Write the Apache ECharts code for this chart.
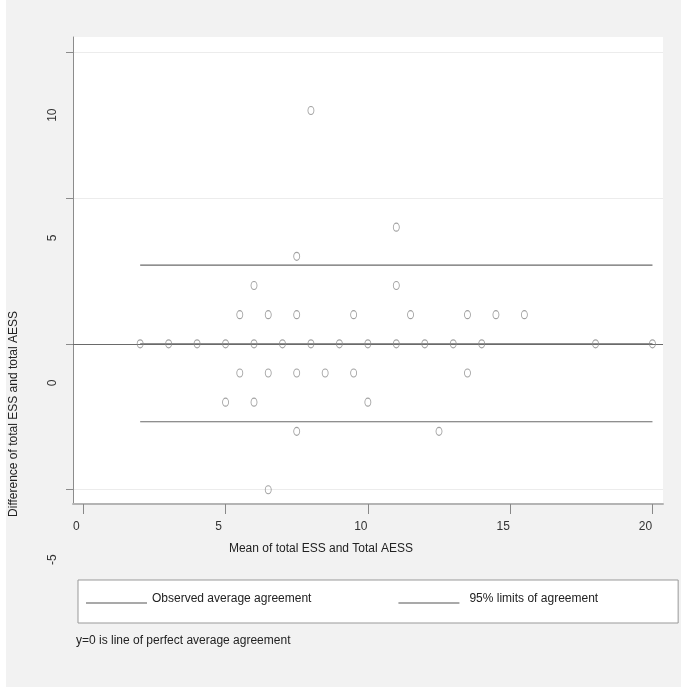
<!DOCTYPE html>
<html>
<head>
<meta charset="utf-8">
<title>Bland-Altman plot</title>
<script src="https://cdn.jsdelivr.net/npm/echarts@6.0.0/dist/echarts.min.js"></script>
<style>
  html, body { margin: 0; padding: 0; background: #fff; }
  #chart { width: 681px; height: 687px; }
</style>
</head>
<body>
<div id="chart"></div>
<script>
// mean of the two totals (x) and their difference (y), one pair per subject
const meanScores = [
  2, 3, 4, 5, 6, 7, 8, 9, 10, 11, 12, 13, 14, 18, 20,
  5.5, 6.5, 7.5, 9.5, 11.5, 13.5, 14.5, 15.5,
  6, 11,
  7.5,
  11,
  8,
  5.5, 6.5, 7.5, 8.5, 9.5, 13.5,
  5, 6, 10,
  7.5, 12.5,
  6.5
]
const diffScores = [
  0, 0, 0, 0, 0, 0, 0, 0, 0, 0, 0, 0, 0, 0, 0,
  1, 1, 1, 1, 1, 1, 1, 1,
  2, 2,
  3,
  4,
  8,
  -1, -1, -1, -1, -1, -1,
  -2, -2, -2,
  -3, -3,
  -5
]

// agreement lines
const meanDiff = 0
const upperLimit = 2.7
const lowerLimit = -2.67
const lineRange = [2, 20]

const xTicks = [0, 5, 10, 15, 20]
const yTicks = [-5, 0, 5, 10]

const FONT = '"Liberation Sans", Arial, sans-serif'
const LINE = '#6a6a6a'

// the y labels sit a little below their ticks in the original
const yLabelDrop = [70, 39, 40, 63]
const yRich = {}
yTicks.forEach(function(v, i) {
  yRich['s' + i] = {
    fontFamily: FONT, fontSize: 12, color: '#333',
    padding: [0, yLabelDrop[i] * 2, 0, 0]
  }
})

const points = meanScores.map(function(m, i) {
  return [m, diffScores[i]]
})

// legend key: a rule drawn along the text baseline
const keyIcon = 'path://M0,0h61v0.01h-61z M0,8h61v1h-61z'

const myChart = echarts.init(document.getElementById('chart'))

myChart.setOption({
  animation: false,
  backgroundColor: '#f2f2f2',
  textStyle: { fontFamily: FONT },
  grid: {
    left: 73,
    top: 37,
    right: 18,
    bottom: 183,
    show: true,
    backgroundColor: '#fff',
    borderWidth: 0
  },
  legend: {
    left: 78,
    top: 580,
    width: 560,
    orient: 'horizontal',
    padding: [13, 80, 18, 8],
    itemGap: 87,
    itemWidth: 61,
    itemHeight: 9,
    icon: keyIcon,
    itemStyle: { color: '#555', borderWidth: 0 },
    backgroundColor: '#fff',
    borderColor: '#999',
    borderWidth: 1,
    borderRadius: 0,
    selectedMode: false,
    textStyle: { fontFamily: FONT, fontSize: 12, color: '#222' },
    data: [
      { name: 'Observed average agreement' },
      { name: '95% limits of agreement', textStyle: { padding: [0, 0, 0, 5] } }
    ]
  },
  xAxis: {
    type: 'value',
    min: -0.36,
    max: 20.37,
    name: 'Mean of total ESS and Total AESS',
    nameLocation: 'middle',
    nameGap: 39,
    nameTextStyle: { fontFamily: FONT, fontSize: 12, color: '#222', padding: [0, 94, 0, 0] },
    axisLine: { show: true, onZero: false, lineStyle: { color: '#b4b4b4', width: 2 } },
    axisTick: { show: true, length: 10, customValues: xTicks, lineStyle: { color: '#888' } },
    axisLabel: {
      customValues: xTicks,
      margin: 17,
      fontSize: 12,
      color: '#333',
      padding: [0, 14, 0, 0]
    },
    splitLine: { show: false }
  },
  yAxis: {
    type: 'value',
    min: -5.49,
    max: 10.52,
    name: 'Difference of total ESS and total AESS',
    nameLocation: 'middle',
    nameRotate: 90,
    nameGap: 53,
    nameTextStyle: { fontFamily: FONT, fontSize: 12, color: '#222', padding: [0, 287, 0, 0] },
    axisLine: { show: true, onZero: false, lineStyle: { color: '#8c8c8c', width: 1 } },
    axisTick: { show: true, length: 7, customValues: yTicks, lineStyle: { color: '#8c8c8c' } },
    axisLabel: {
      customValues: yTicks,
      rotate: 90,
      margin: 14,
      formatter: function(v) {
        const i = yTicks.indexOf(v)
        return i < 0 ? '' : '{s' + i + '|' + v + '}'
      },
      rich: yRich
    },
    splitLine: { show: true, customValues: yTicks, lineStyle: { color: '#ececec', width: 1 } }
  },
  series: [
    {
      name: 'Difference',
      type: 'scatter',
      data: points,
      symbol: 'circle',
      symbolSize: [6, 8],
      itemStyle: { color: 'rgba(255,255,255,0)', borderColor: '#8a8a8a', borderWidth: 1 },
      z: 5,
      markLine: {
        silent: true,
        symbol: 'none',
        label: { show: false },
        lineStyle: { color: LINE, width: 1.2, type: 'solid' },
        data: [{ yAxis: 0 }]
      }
    },
    {
      name: 'Observed average agreement',
      type: 'line',
      data: [[lineRange[0], meanDiff], [lineRange[1], meanDiff]],
      symbol: 'none',
      color: LINE,
      lineStyle: { color: LINE, width: 1.2 }
    },
    {
      name: '95% limits of agreement',
      type: 'line',
      data: [[lineRange[0], upperLimit], [lineRange[1], upperLimit]],
      symbol: 'none',
      color: LINE,
      lineStyle: { color: LINE, width: 1.2 }
    },
    {
      name: '95% limits of agreement',
      type: 'line',
      data: [[lineRange[0], lowerLimit], [lineRange[1], lowerLimit]],
      symbol: 'none',
      color: LINE,
      lineStyle: { color: LINE, width: 1.2 }
    }
  ],
  graphic: [
    {
      type: 'rect',
      left: 0,
      top: 0,
      shape: { width: 6, height: 687 },
      style: { fill: '#fff' },
      silent: true
    },
    {
      type: 'text',
      left: 76,
      top: 635,
      style: {
        text: 'y=0 is line of perfect average agreement',
        font: '12px ' + FONT,
        fill: '#222'
      }
    }
  ]
})
</script>
</body>
</html>
